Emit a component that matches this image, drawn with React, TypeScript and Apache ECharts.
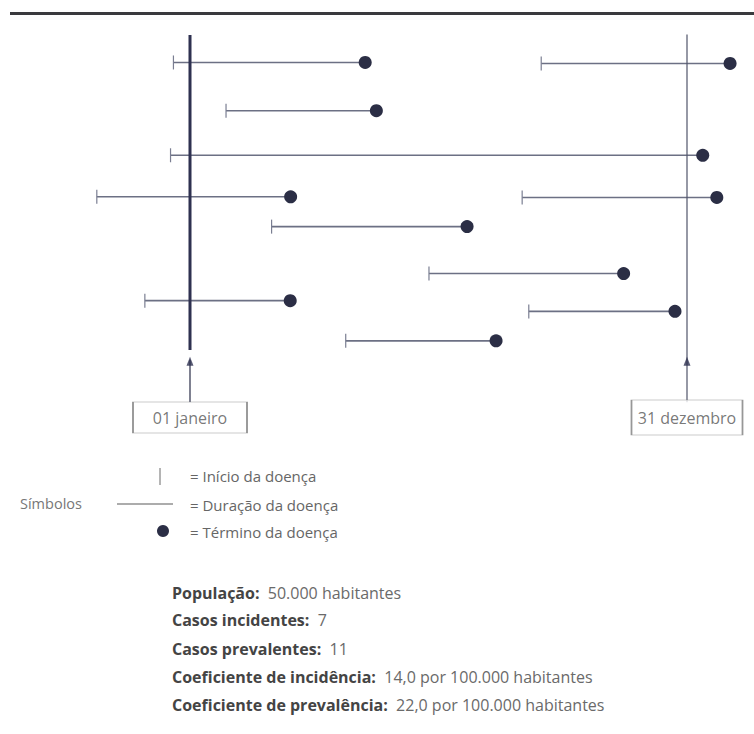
import React, { useEffect, useRef } from "react";
import * as echarts from "echarts";

// Months since 01 janeiro (0) to 31 dezembro (12)
const caseStart = [-0.4, 8.48, 0.87, -0.47, -2.25, 8.02, 1.97, 5.77, -1.09, 8.18, 3.76];
const caseEnd = [4.23, 13.04, 4.5, 12.38, 2.43, 12.72, 6.69, 10.47, 2.42, 11.71, 7.39];
const caseRow = [8.2, 8.5, 22.6, 35.9, 48.3, 48.5, 57.2, 71.2, 79.3, 82.5, 91.3];

const refDates = [0, 12];
const refLabels = ["01 janeiro", "31 dezembro"];

const legendTexts = ["= Início da doença", "= Duração da doença", "= Término da doença"];
const legendTitle = "Símbolos";

const infoLabels = [
  "População:",
  "Casos incidentes:",
  "Casos prevalentes:",
  "Coeficiente de incidência:",
  "Coeficiente de prevalência:",
];
const infoValues = [
  "50.000 habitantes",
  "7",
  "11",
  "14,0 por 100.000 habitantes",
  "22,0 por 100.000 habitantes",
];

const FONT = "'Open Sans', 'Noto Sans', sans-serif";

export default function App() {
  const ref = useRef<HTMLDivElement>(null);

  useEffect(() => {
    if (!ref.current) return;
    const chart = echarts.init(ref.current, undefined, { renderer: "svg" });

    const caseData = caseStart.map((s, i) => [s, caseEnd[i], caseRow[i]]);

    const infoY = [593, 620, 649, 677, 705];
    const legendY = [476, 505, 532];

    const option: any = {
      animation: false,
      backgroundColor: "#ffffff",
      grid: { left: 65.75, top: 35, width: 683.375, height: 402, containLabel: false },
      xAxis: { type: "value", min: -3, max: 13.5, show: false },
      yAxis: { type: "value", min: 0, max: 120, inverse: true, show: false },
      series: [
        {
          type: "line",
          data: [
            [refDates[0], 0],
            [refDates[0], 94],
          ],
          symbol: "none",
          lineStyle: { color: "#2e3150", width: 3 },
          z: 3,
        },
        {
          type: "line",
          data: [
            [refDates[0], 97],
            [refDates[0], 109.6],
          ],
          symbol: "none",
          lineStyle: { color: "#3a3d55", width: 1.3 },
          z: 3,
        },
        {
          type: "line",
          data: [
            [refDates[1], -0.6],
            [refDates[1], 109.6],
          ],
          symbol: "none",
          lineStyle: { color: "#50546a", width: 1.2 },
          z: 3,
        },
        {
          type: "scatter",
          data: refDates.map((d) => [d, 97.4]),
          symbol: "triangle",
          symbolSize: [7, 9],
          itemStyle: { color: "#2e3150" },
          z: 4,
        },
        {
          type: "scatter",
          data: [
            { name: refLabels[0], value: [refDates[0], 114.2], symbolSize: [114, 31] },
            { name: refLabels[1], value: [refDates[1], 114.2], symbolSize: [111, 35] },
          ],
          symbol: "rect",
          itemStyle: { color: "#ffffff", borderColor: "#7d7d7d", borderWidth: 1 },
          label: {
            show: true,
            position: "inside",
            formatter: "{b}",
            color: "#555555",
            fontSize: 16,
            fontFamily: FONT,
          },
          z: 4,
        },
        {
          type: "custom",
          data: caseData,
          encode: { x: [0, 1], y: 2 },
          z: 2,
          renderItem: (params: any, api: any) => {
            const s = api.coord([api.value(0), api.value(2)]);
            const e = api.coord([api.value(1), api.value(2)]);
            return {
              type: "group",
              children: [
                {
                  type: "line",
                  shape: { x1: s[0], y1: s[1], x2: e[0], y2: e[1] },
                  style: { stroke: "#6c7084", lineWidth: 1.6 },
                },
                {
                  type: "line",
                  shape: { x1: s[0], y1: s[1] - 7, x2: s[0], y2: s[1] + 7 },
                  style: { stroke: "#7a7e92", lineWidth: 1.2 },
                },
                {
                  type: "circle",
                  shape: { cx: e[0], cy: e[1], r: 6.5 },
                  style: { fill: "#2b2e45" },
                },
              ],
            };
          },
        },
      ],
      graphic: [
        {
          type: "line",
          shape: { x1: 10, y1: 13.5, x2: 754, y2: 13.5 },
          style: { stroke: "#3a3a3e", lineWidth: 3 },
        },
        {
          type: "text",
          style: {
            text: legendTitle,
            x: 20,
            y: 503,
            fill: "#777777",
            fontSize: 14.5,
            fontFamily: FONT,
            textVerticalAlign: "middle",
          },
        },
        {
          type: "line",
          shape: { x1: 160, y1: 468, x2: 160, y2: 485 },
          style: { stroke: "#6a6a6a", lineWidth: 1 },
        },
        {
          type: "line",
          shape: { x1: 117, y1: 504, x2: 173, y2: 504 },
          style: { stroke: "#5a5a5a", lineWidth: 1.2 },
        },
        {
          type: "circle",
          shape: { cx: 163, cy: 531, r: 6 },
          style: { fill: "#2b2e45" },
        },
        ...legendTexts.map((t, i) => ({
          type: "text",
          style: {
            text: t,
            x: 190,
            y: legendY[i],
            fill: "#666666",
            fontSize: 15,
            fontFamily: FONT,
            textVerticalAlign: "middle",
          },
        })),
        ...infoLabels.map((l, i) => ({
          type: "text",
          style: {
            text: `{b|${l}}  {v|${infoValues[i]}}`,
            x: 172,
            y: infoY[i],
            textVerticalAlign: "middle",
            fontFamily: FONT,
            fontSize: 16,
            rich: {
              b: { fontWeight: "bold", fill: "#444444", fontSize: 16, fontFamily: FONT },
              v: { fill: "#6a6a6a", fontSize: 16, fontFamily: FONT },
            },
          },
        })),
      ],
    };

    chart.setOption(option);
    return () => chart.dispose();
  }, []);

  return (
    <div
      ref={ref}
      style={{ position: "absolute", left: 0, top: 0, width: 754, height: 734, background: "#fff" }}
    />
  );
}
